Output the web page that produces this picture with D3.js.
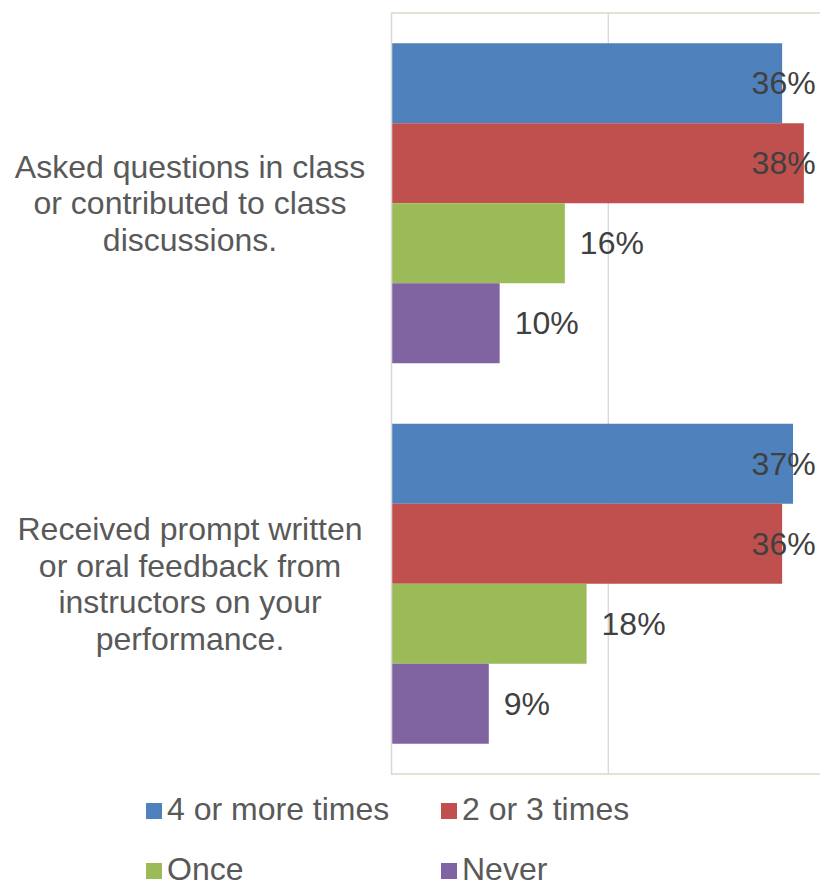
<!DOCTYPE html>
<html>
<head>
<meta charset="utf-8">
<script src="https://cdn.jsdelivr.net/npm/d3@7"></script>
<style>
  html, body { margin: 0; padding: 0; background: #fff; }
  svg { display: block; }
  text { font-family: "Liberation Sans", Arial, sans-serif; }
</style>
</head>
<body>
<svg id="chart" width="820" height="880"></svg>
<script>
// ---- data ----
const categories = [
  "Asked questions in class or contributed to class discussions.",
  "Received prompt written or oral feedback from instructors on your performance."
];
const categoryLines = [
  ["Asked questions in class", "or contributed to class", "discussions."],
  ["Received prompt written", "or oral feedback from", "instructors on your", "performance."]
];
const seriesNames = ["4 or more times", "2 or 3 times", "Once", "Never"];
const seriesColors = ["#4f81bd", "#c0504d", "#9bbb59", "#8064a2"];
const values4OrMore = [36, 37];
const values2or3 = [38, 36];
const valuesOnce = [16, 18];
const valuesNever = [10, 9];
const gridTicks = [0, 20, 40];

const seriesValues = [values4OrMore, values2or3, valuesOnce, valuesNever];

// ---- layout ----
const svg = d3.select("#chart");
const plot = { left: 391, top: 13, bottom: 774 };
const xMax = 40;

const x = d3.scaleLinear().domain([0, xMax]).range([plot.left, plot.left + 434.6]);
const y = d3.scaleBand().domain(categories).range([plot.top, plot.bottom])
  .paddingInner(0.159).paddingOuter(0.0795);
const ys = d3.scaleBand().domain(seriesNames).range([0, y.bandwidth()]).padding(0);

const plotRight = x(xMax) + 8;

// plot area border (top/bottom)
svg.append("line").attr("x1", plot.left).attr("x2", plotRight)
  .attr("y1", plot.top).attr("y2", plot.top)
  .attr("stroke", "#ddd9c3").attr("stroke-width", 1.3);
svg.append("line").attr("x1", plot.left).attr("x2", plotRight)
  .attr("y1", plot.bottom).attr("y2", plot.bottom)
  .attr("stroke", "#ddd9c3").attr("stroke-width", 1.3);

// gridlines
svg.append("g").selectAll("line").data(gridTicks.filter(d => d > 0)).join("line")
  .attr("x1", d => x(d)).attr("x2", d => x(d))
  .attr("y1", plot.top).attr("y2", plot.bottom)
  .attr("stroke", "#d9d9d9").attr("stroke-width", 1.4);

// bars
const groups = svg.append("g").selectAll("g").data(categories).join("g")
  .attr("transform", c => `translate(0,${y(c)})`);

groups.each(function(c, ci) {
  const g = d3.select(this);
  seriesNames.forEach((s, si) => {
    const v = seriesValues[si][ci];
    g.append("rect")
      .attr("x", x(0))
      .attr("y", ys(s))
      .attr("width", x(v) - x(0))
      .attr("height", ys.bandwidth())
      .attr("fill", seriesColors[si]);
  });
});

// category axis (left)
const yAxis = svg.append("g")
  .attr("transform", `translate(${plot.left},0)`)
  .call(d3.axisLeft(y).tickSize(0).tickPadding(0));
yAxis.select(".domain").attr("stroke", "#d9d9d9").attr("stroke-width", 1.6);
const lineH = 36.5;
yAxis.selectAll(".tick text").each(function(c, i) {
  const t = d3.select(this);
  const lines = categoryLines[categories.indexOf(c)];
  t.text(null)
    .attr("x", 190 - plot.left)
    .attr("dy", null)
    .attr("text-anchor", "middle")
    .attr("font-size", 32)
    .attr("font-family", "'Liberation Sans', Arial, sans-serif")
    .attr("fill", "#595959");
  lines.forEach((ln, li) => {
    t.append("tspan")
      .attr("x", 190 - plot.left)
      .attr("y", (li - (lines.length - 1) / 2) * lineH)
      .attr("dy", "0.35em")
      .text(ln);
  });
});

// data labels
const labelMaxX = x(xMax) - 74;
groups.each(function(c, ci) {
  const g = d3.select(this);
  seriesNames.forEach((s, si) => {
    const v = seriesValues[si][ci];
    g.append("text")
      .attr("x", Math.min(x(v) + 15, labelMaxX))
      .attr("y", ys(s) + ys.bandwidth() / 2)
      .attr("dy", "0.35em")
      .attr("font-size", 32)
      .attr("fill", "#404040")
      .text(v + "%");
  });
});

// legend
const legendPos = [
  { x: 146, y: 820 }, { x: 441, y: 820 },
  { x: 146, y: 880 }, { x: 441, y: 880 }
];
const legend = svg.append("g").selectAll("g").data(seriesNames).join("g")
  .attr("transform", (d, i) => `translate(${legendPos[i].x},${legendPos[i].y})`);
legend.append("rect")
  .attr("x", 0).attr("y", -17).attr("width", 16).attr("height", 16)
  .attr("fill", (d, i) => seriesColors[i]);
legend.append("text")
  .attr("x", 21).attr("y", 0)
  .attr("font-size", 32)
  .attr("fill", "#595959")
  .text(d => d);
</script>
</body>
</html>
